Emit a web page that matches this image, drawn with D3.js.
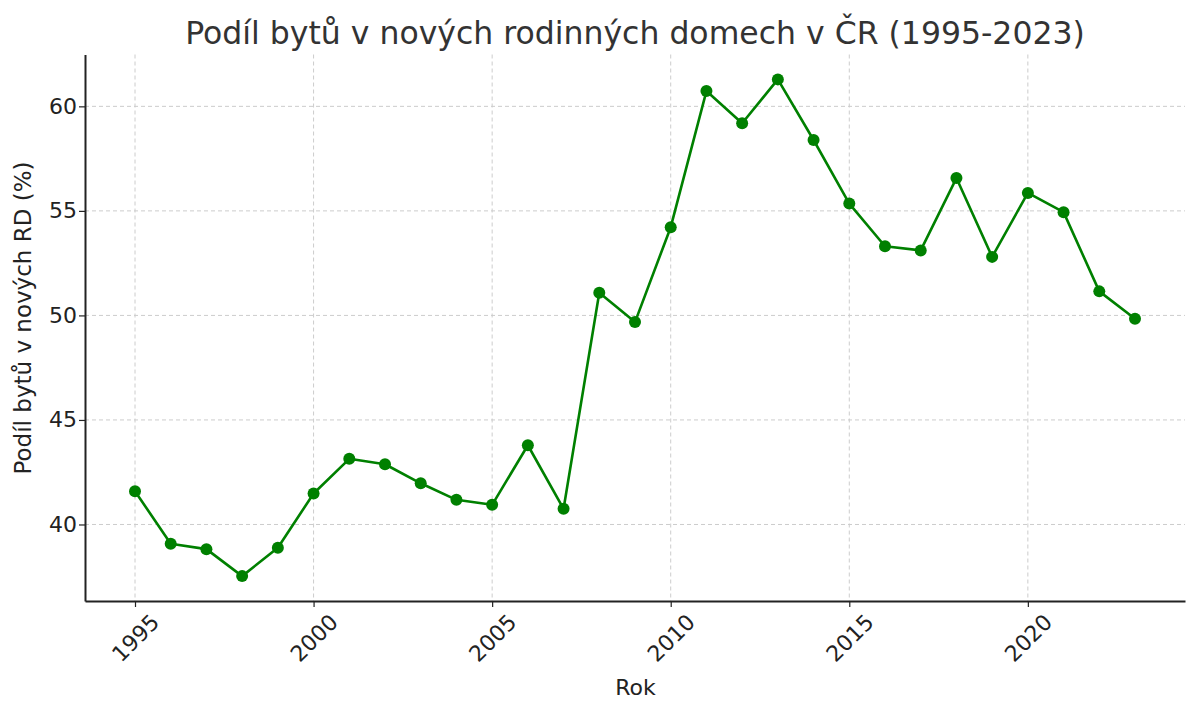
<!DOCTYPE html>
<html><head><meta charset="utf-8">
<script src="https://cdn.jsdelivr.net/npm/d3@7"></script>
<style>
body{margin:0;background:#fff;}
text{font-family:"DejaVu Sans",sans-serif;}
</style></head>
<body><svg id="c" width="1200" height="713"></svg>
<script>
const years = [1995,1996,1997,1998,1999,2000,2001,2002,2003,2004,2005,2006,2007,2008,2009,2010,2011,2012,2013,2014,2015,2016,2017,2018,2019,2020,2021,2022,2023];
const shares = [41.59,39.08,38.82,37.53,38.89,41.48,43.14,42.88,41.97,41.18,40.94,43.79,40.75,51.08,49.68,54.22,60.73,59.19,61.29,58.39,55.35,53.31,53.11,56.57,52.80,55.86,54.94,51.15,49.84];
const xTicks = [1995,2000,2005,2010,2015,2020];
const yTicks = [40,45,50,55,60];
const title = "Podíl bytů v nových rodinných domech v ČR (1995-2023)";
const xLabel = "Rok";
const yLabel = "Podíl bytů v nových RD (%)";

const svg = d3.select("#c");
const L=85, R=1185, T=54.5, B=601;
const x = d3.scaleLinear().domain([1993.6, 2024.4]).range([L,R]);
const y = d3.scaleLinear().domain([36.34, 62.48]).range([B,T]);

// grid
svg.append("g").selectAll("line").data(xTicks).join("line")
  .attr("x1",d=>x(d)).attr("x2",d=>x(d)).attr("y1",T).attr("y2",B)
  .attr("stroke","#cccccc").attr("stroke-width",1).attr("stroke-dasharray","4,3");
svg.append("g").selectAll("line").data(yTicks).join("line")
  .attr("y1",d=>y(d)).attr("y2",d=>y(d)).attr("x1",L).attr("x2",R)
  .attr("stroke","#cccccc").attr("stroke-width",1).attr("stroke-dasharray","4,3");

// axes
const xa = svg.append("g").attr("transform",`translate(0,${B})`)
  .call(d3.axisBottom(x).tickValues(xTicks).tickFormat(d3.format("d")).tickSize(6).tickSizeOuter(0));
xa.select(".domain").attr("stroke","#222").attr("stroke-width",2);
xa.selectAll(".tick line").attr("stroke","#222").attr("stroke-width",1.2);
xa.selectAll(".tick text").attr("font-size",22).attr("fill","#222")
  .attr("text-anchor","middle").attr("dy","0.35em").attr("y",0)
  .attr("transform","translate(0,37) rotate(-45)");

const ya = svg.append("g").attr("transform",`translate(${L},0)`)
  .call(d3.axisLeft(y).tickValues(yTicks).tickSize(6).tickSizeOuter(0));
ya.select(".domain").attr("stroke","#222").attr("stroke-width",2);
ya.selectAll(".tick line").attr("stroke","#222").attr("stroke-width",1.2);
ya.selectAll(".tick text").attr("font-size",22).attr("fill","#222").attr("x",-8);

// line
svg.append("path").datum(years.map((yr,i)=>[yr,shares[i]]))
  .attr("fill","none").attr("stroke","#008000").attr("stroke-width",2.6)
  .attr("stroke-linejoin","round")
  .attr("d",d3.line().x(d=>x(d[0])).y(d=>y(d[1])));
svg.append("g").selectAll("circle").data(years.map((yr,i)=>[yr,shares[i]])).join("circle")
  .attr("cx",d=>x(d[0])).attr("cy",d=>y(d[1])).attr("r",6).attr("fill","#008000");

// titles
svg.append("text").attr("x",(L+R)/2).attr("y",44).attr("text-anchor","middle")
  .attr("font-size",31.5).attr("fill","#333").text(title);
svg.append("text").attr("x",635.5).attr("y",695).attr("text-anchor","middle")
  .attr("font-size",22).attr("fill","#222").text(xLabel);
svg.append("text").attr("transform",`translate(31,318) rotate(-90)`).attr("text-anchor","middle")
  .attr("font-size",23).attr("fill","#222").text(yLabel);
</script></body></html>
